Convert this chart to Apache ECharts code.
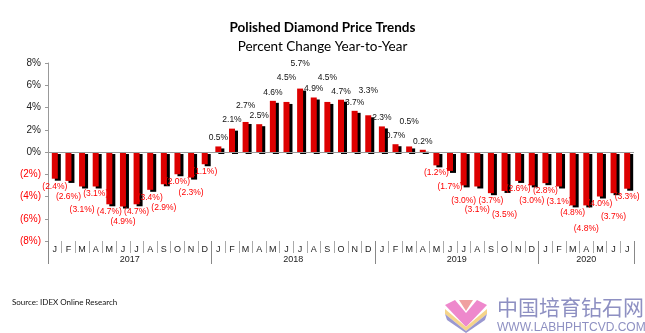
<!DOCTYPE html>
<html><head><meta charset="utf-8">
<script src="https://cdn.jsdelivr.net/npm/echarts@6/dist/echarts.min.js"></script>
<style>html,body{margin:0;padding:0;background:#fff}#c{width:645px;height:333px}</style>
</head><body><div id="c"></div>
<script>
const years = ['2017','2018','2019','2020'];
const monthsPerYear = [12,12,12,7];
const monthLetters = ['J','F','M','A','M','J','J','A','S','O','N','D'];
const values2017 = [-2.4,-2.6,-3.1,-3.1,-4.7,-4.9,-4.7,-3.4,-2.9,-2.0,-2.3,-1.1];
const values2018 = [0.5,2.1,2.7,2.5,4.6,4.5,5.7,4.9,4.5,4.7,3.7,3.3];
const values2019 = [2.3,0.7,0.5,0.2,-1.2,-1.7,-3.0,-3.1,-3.7,-3.5,-2.6,-3.0];
const values2020 = [-2.8,-3.1,-4.8,-4.8,-4.0,-3.7,-3.3];
const yTicks = [-8,-6,-4,-2,0,2,4,6,8];

const values = [].concat(values2017, values2018, values2019, values2020);
const months = [];
monthsPerYear.forEach(n => { for (let i = 0; i < n; i++) months.push(monthLetters[i]); });

// half-month slots for year axis
const totalHalf = months.length * 2;
const yearSlots = new Array(totalHalf + 1).fill('');
const boundaries = [0];
let acc = 0;
monthsPerYear.forEach((n, i) => {
  yearSlots[acc * 2 + n] = years[i];
  acc += n;
  boundaries.push(acc * 2);
});

const fmt = v => v < 0 ? '(' + Math.abs(v).toFixed(1) + '%)' : v.toFixed(1) + '%';

// greedy label staggering to avoid overlaps (like the original's manual placement)
let placed = [];
function stagger(params) {
  if (params.dataIndex === 0) placed = [];
  const r = params.labelRect;
  const neg = values[params.dataIndex] < 0;
  const step = r.height - 1;
  let dy = 0;
  const hit = (y) => placed.some(p =>
    r.x < p.x + p.width && p.x < r.x + r.width &&
    y + 0.5 < p.y + p.height && p.y + 0.5 < y + r.height);
  let guard = 0;
  while (hit(r.y + dy) && guard < 10) { dy += neg ? step : -step; guard++; }
  placed.push({x: r.x, y: r.y + dy, width: r.width, height: r.height});
  return {dy: dy, hideOverlap: false};
}

const chart = echarts.init(document.getElementById('c'), null, {renderer: 'canvas'});
chart.setOption({
  animation: false,
  backgroundColor: '#fff',
  title: [
    {text: 'Polished Diamond Price Trends', left: 'center', top: 16,
     textStyle: {fontFamily: 'Lato', fontWeight: 'bold', fontSize: 13.5, color: '#000'}},
    {text: 'Percent Change Year-to-Year', left: 'center', top: 35,
     textStyle: {fontFamily: 'Lato', fontWeight: 'normal', fontSize: 13.5, color: '#000'}}
  ],
  grid: {left: 48, right: 11, top: 63, bottom: 92, containLabel: false},
  xAxis: [
    {type: 'category', data: months, position: 'bottom',
     axisLine: {show: false, onZero: false},
     axisTick: {show: true, interval: 0, length: 12, lineStyle: {color: '#aaa'}},
     axisLabel: {interval: 0, margin: 4, fontFamily: 'Arial', fontSize: 9, color: '#222'}},
    {type: 'category', data: yearSlots, boundaryGap: false, position: 'bottom',
     axisLine: {show: false, onZero: false},
     axisTick: {show: true, length: 23, interval: (i) => boundaries.indexOf(i) >= 0, lineStyle: {color: '#888'}},
     axisLabel: {interval: (i, v) => v !== '', margin: 14, fontFamily: 'Arial', fontSize: 9, color: '#222'}}
  ],
  yAxis: {
    type: 'value', min: yTicks[0], max: yTicks[yTicks.length - 1], interval: 2,
    axisLine: {show: true, lineStyle: {color: '#999'}},
    axisTick: {show: true, length: 3, lineStyle: {color: '#999'}},
    splitLine: {show: false},
    axisLabel: {margin: 7, fontFamily: 'Arial', fontSize: 10,
      formatter: v => v < 0 ? '(' + (-v) + '%)' : v + '%',
      color: v => (Number(v) < 0 ? '#ff0000' : '#222')}
  },
  series: [{
    type: 'bar', xAxisIndex: 0,
    barWidth: 6,
    data: values.map(v => ({
      value: v,
      label: {position: v < 0 ? 'bottom' : 'top', color: v < 0 ? '#ff0000' : '#111', distance: v < 0 ? 3 : 4}
    })),
    itemStyle: {color: '#dd0000', shadowColor: '#000', shadowBlur: 0, shadowOffsetX: 3, shadowOffsetY: 2},
    label: {show: true, formatter: p => fmt(p.value), fontFamily: 'Arial', fontSize: 8.5},
    labelLayout: stagger,
    markLine: {silent: true, symbol: 'none', label: {show: false},
      lineStyle: {color: '#999', type: 'solid', width: 1},
      data: [{yAxis: 0}]}
  }],
  graphic: [
    {type: 'text', left: 12, top: 298, style: {text: 'Source: IDEX Online Research', fontFamily: 'Lato', fontSize: 8, fontWeight: 'normal', fill: '#111'}},
    {type: 'polygon', shape: {points: [[459,300],[473,300],[466,311]]}, style: {fill: '#f0a0a0'}},
    {type: 'polygon', shape: {points: [[445,305],[455,300],[466,313],[466,327]]}, style: {fill: '#ee88cc'}},
    {type: 'polygon', shape: {points: [[487,305],[477,300],[466,313],[466,327]]}, style: {fill: '#ee88cc'}},
    {type: 'polygon', shape: {points: [[445,309],[466,327],[466,331],[445,314]]}, style: {fill: '#f5d48a'}},
    {type: 'polygon', shape: {points: [[487,309],[466,327],[466,331],[487,314]]}, style: {fill: '#f5d48a'}},
    {type: 'polygon', shape: {points: [[445,314],[466,331],[466,333],[447,320]]}, style: {fill: '#9a98d0'}},
    {type: 'polygon', shape: {points: [[487,314],[466,331],[466,333],[485,320]]}, style: {fill: '#9a98d0'}},
    {type: 'text', left: 497, top: 297, style: {text: '中国培育钻石网', fontFamily: 'Noto Sans CJK SC', fontSize: 21, fill: '#8e90c2'}},
    {type: 'text', left: 497, top: 322, style: {text: 'WWW.LABHPHTCVD.COM', fontFamily: 'Arial', fontSize: 12, fill: '#8e90c2'}}
  ]
});
</script></body></html>
